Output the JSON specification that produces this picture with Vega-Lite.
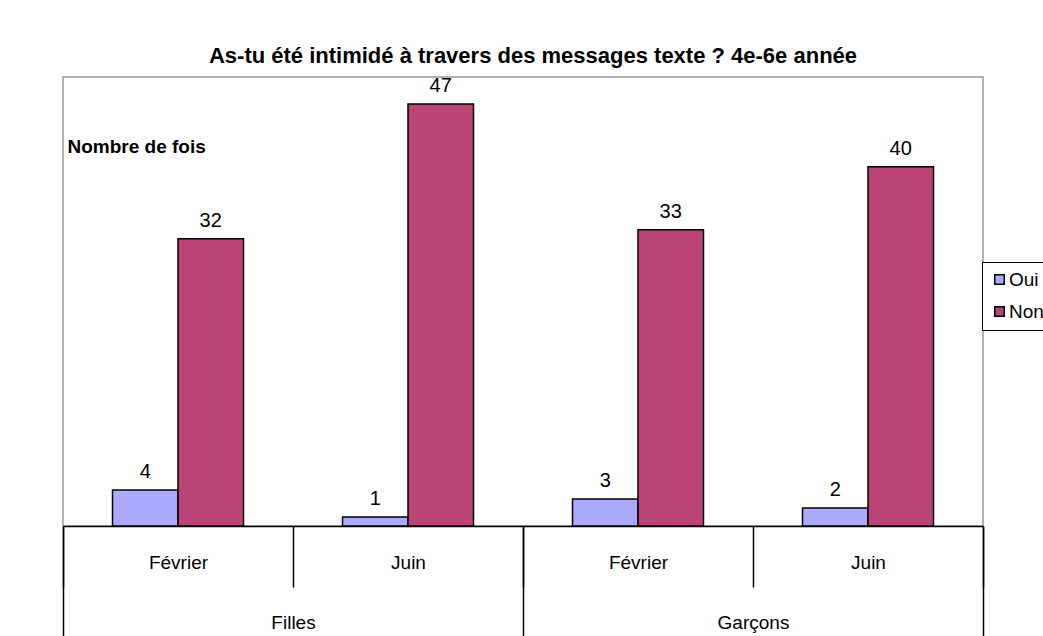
{
  "$schema": "https://vega.github.io/schema/vega-lite/v6.json",
  "width": 920,
  "height": 449,
  "autosize": "none",
  "padding": {"left": 63, "top": 77, "right": 60, "bottom": 110},
  "background": "white",
  "title": {
    "text": "As-tu été intimidé à travers des messages texte ? 4e-6e année",
    "font": "Liberation Sans",
    "fontSize": 22,
    "fontWeight": "bold",
    "color": "black",
    "anchor": "middle",
    "dx": 10,
    "offset": 8
  },
  "config": {
    "font": "Liberation Sans",
    "view": {"stroke": "#999999", "strokeWidth": 1.5},
    "axis": {"grid": false, "labelFont": "Liberation Sans", "titleFont": "Liberation Sans"}
  },
  "layer": [
    {
      "data": {
        "values": [
          {"groupe": "Filles Février", "reponse": "Oui", "nombre": 4},
          {"groupe": "Filles Février", "reponse": "Non", "nombre": 32},
          {"groupe": "Filles Juin", "reponse": "Oui", "nombre": 1},
          {"groupe": "Filles Juin", "reponse": "Non", "nombre": 47},
          {"groupe": "Garçons Février", "reponse": "Oui", "nombre": 3},
          {"groupe": "Garçons Février", "reponse": "Non", "nombre": 33},
          {"groupe": "Garçons Juin", "reponse": "Oui", "nombre": 2},
          {"groupe": "Garçons Juin", "reponse": "Non", "nombre": 40}
        ]
      },
      "encoding": {
        "x": {
          "field": "groupe",
          "type": "nominal",
          "sort": null,
          "scale": {"paddingInner": 0, "paddingOuter": 0},
          "axis": {
            "orient": "bottom",
            "title": null,
            "labelExpr": "split(datum.label, ' ')[1]",
            "labelAngle": 0,
            "labelFontSize": 19,
            "labelColor": "black",
            "labelPadding": -34,
            "labelBaseline": "top",
            "domainColor": "black",
            "domainWidth": 1.5,
            "tickColor": "black",
            "tickWidth": 1.5,
            "tickSize": 61,
            "tickBand": "extent"
          }
        },
        "xOffset": {
          "field": "reponse",
          "type": "nominal",
          "sort": ["Oui", "Non"],
          "scale": {"paddingInner": 0, "paddingOuter": 0.756}
        },
        "y": {
          "field": "nombre",
          "type": "quantitative",
          "scale": {"domain": [0, 50], "nice": false},
          "axis": {
            "title": "Nombre de fois",
            "labels": false,
            "ticks": false,
            "domain": false,
            "titleAngle": 0,
            "titleX": 4,
            "titleY": 69,
            "titleAlign": "left",
            "titleBaseline": "middle",
            "titleFontSize": 19,
            "titleFontWeight": "bold",
            "titleColor": "black"
          }
        }
      },
      "layer": [
        {
          "mark": {"type": "bar", "stroke": "black", "strokeWidth": 1.5},
          "encoding": {
            "color": {
              "field": "reponse",
              "type": "nominal",
              "sort": ["Oui", "Non"],
              "scale": {"domain": ["Oui", "Non"], "range": ["#AAAAFF", "#BB4477"]},
              "legend": {
                "title": null,
                "orient": "none",
                "legendX": 919,
                "legendY": 185,
                "direction": "vertical",
                "strokeColor": "black",
                "fillColor": "white",
                "padding": 8,
                "rowPadding": 12,
                "symbolType": "square",
                "symbolSize": 90,
                "symbolStrokeColor": "black",
                "symbolStrokeWidth": 1.5,
                "labelFontSize": 19,
                "labelColor": "black",
                "labelOffset": 0,
                "labelFont": "Liberation Sans"
              }
            }
          }
        },
        {
          "mark": {"type": "text", "baseline": "bottom", "dy": -8, "fontSize": 20, "color": "black", "font": "Liberation Sans"},
          "encoding": {
            "text": {"field": "nombre", "type": "quantitative"}
          }
        }
      ]
    },
    {
      "data": {"values": [{"genre": "Filles"}, {"genre": "Garçons"}]},
      "mark": {"type": "rule", "opacity": 0},
      "encoding": {
        "x": {
          "field": "genre",
          "type": "nominal",
          "sort": null,
          "scale": {"type": "band", "paddingInner": 0, "paddingOuter": 0},
          "axis": {
            "orient": "bottom",
            "title": null,
            "domain": false,
            "labelAngle": 0,
            "labelFontSize": 19,
            "labelColor": "black",
            "labelPadding": -23,
            "labelBaseline": "top",
            "tickColor": "black",
            "tickWidth": 1.5,
            "tickSize": 110,
            "tickBand": "extent"
          }
        }
      }
    }
  ],
  "resolve": {"scale": {"x": "independent"}, "axis": {"x": "independent"}}
}
